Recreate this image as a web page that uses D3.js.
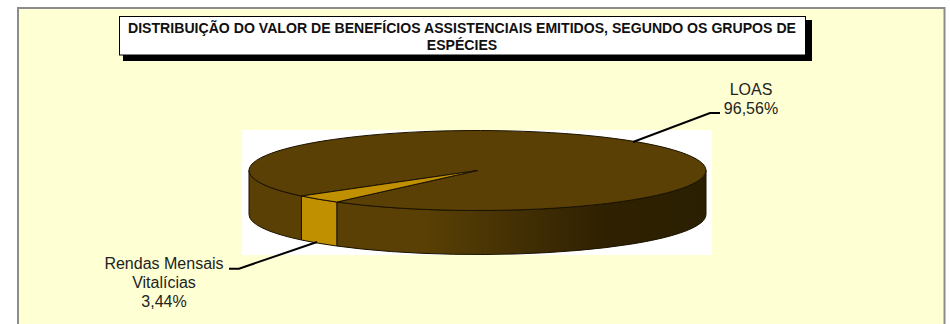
<!DOCTYPE html>
<html><head><meta charset="utf-8">
<script src="https://cdn.jsdelivr.net/npm/d3@7"></script>
<style>html,body{margin:0;padding:0;background:#fff}svg{display:block}text{font-family:"Liberation Sans",Arial,sans-serif}</style>
</head><body><svg id="c" width="950" height="324"></svg>
<script>
const categories = ["LOAS", "Rendas Mensais Vitalícias"];
const values = [96.56, 3.44];
const valueLabels = ["96,56%", "3,44%"];
const colors = ["#5a4004", "#c09000"];
const titleLines = ["DISTRIBUIÇÃO DO VALOR DE BENEFÍCIOS ASSISTENCIAIS EMITIDOS, SEGUNDO OS GRUPOS DE", "ESPÉCIES"];

const svg = d3.select("#c");
const cx = 477.5, cy = 170.5, rx = 228.5, ry = 40, depth = 44;

// frame
svg.append("rect").attr("x",18).attr("y",8).attr("width",926.5).attr("height",330)
  .attr("fill","#ffffd4").attr("stroke","#8c8c8c").attr("stroke-width",2);

// title box
svg.append("rect").attr("x",123).attr("y",20).attr("width",689).attr("height",41).attr("fill","#000");
svg.append("rect").attr("x",119.5).attr("y",16.5).attr("width",686).attr("height",38.5)
  .attr("fill","#fff").attr("stroke","#000").attr("stroke-width",1);
svg.append("g").selectAll("text").data(titleLines).join("text")
  .attr("x",462).attr("y",(d,i)=>33+i*16.5).attr("text-anchor","middle")
  .attr("font-size",14.1).attr("font-weight","bold").attr("fill","#111").text(d=>d);

// plot area
svg.append("rect").attr("x",242).attr("y",130).attr("width",470).attr("height",125).attr("fill","#fff");

// pie: d3 angles measured clockwise from 12 o'clock
const startAngle = (90+128)/180*Math.PI + 2*Math.PI*values[1]/100;
const pie = d3.pie().sort(null).startAngle(startAngle).endAngle(startAngle+2*Math.PI);
const arcs = pie(values);
const px = a => cx + rx*Math.sin(a);
const py = a => cy - ry*Math.cos(a);

const defs = svg.append("defs");
const grad = defs.append("linearGradient").attr("id","side").attr("gradientUnits","userSpaceOnUse")
  .attr("x1",cx-rx).attr("x2",cx+rx).attr("y1",0).attr("y2",0);
[[0,"#5a4004"],[0.38,"#5a4004"],[0.62,"#3f2d03"],[0.78,"#2f2001"],[1,"#2a2001"]]
  .forEach(([o,c])=>grad.append("stop").attr("offset",o).attr("stop-color",c));

function sidePath(a0,a1){
  // visible front part only: angles between PI/2 and 3PI/2 (mod 2PI)
  const lo = Math.PI/2, hi = 3*Math.PI/2;
  const segs=[];
  for (const k of [0,1,2]) {
    const s=Math.max(a0,lo+k*2*Math.PI), e=Math.min(a1,hi+k*2*Math.PI);
    if (e>s) segs.push([s,e]);
  }
  return segs.map(([s,e])=>
    `M${px(s)},${py(s)}A${rx},${ry} 0 0 1 ${px(e)},${py(e)}L${px(e)},${py(e)+depth}`+
    `A${rx},${ry} 0 0 0 ${px(s)},${py(s)+depth}Z`).join("");
}
svg.append("g").selectAll("path").data(arcs).join("path")
  .attr("d",d=>sidePath(d.startAngle,d.endAngle))
  .attr("fill",(d,i)=>i===0?"url(#side)":colors[i])
  .attr("stroke","#1a1200").attr("stroke-width",1);

const arcGen = d3.arc().innerRadius(0).outerRadius(rx);
svg.append("g").attr("transform",`translate(${cx},${cy}) scale(1,${ry/rx})`)
  .selectAll("path").data(arcs).join("path")
  .attr("d",arcGen).attr("fill",(d,i)=>colors[i])
  .attr("stroke","#1a1200").attr("stroke-width",1).attr("vector-effect","non-scaling-stroke");

// leaders and labels
const line = d3.line();
svg.append("path").attr("d",line([[633,142],[710,113],[720,113]])).attr("fill","none").attr("stroke","#000").attr("stroke-width",2);
svg.append("path").attr("d",line([[317,242],[239,268.7],[229,268.7]])).attr("fill","none").attr("stroke","#000").attr("stroke-width",2);

const lab = svg.append("g").attr("font-size",16).attr("fill","#222").attr("text-anchor","middle");
lab.append("text").attr("x",751).attr("y",95).text(categories[0]);
lab.append("text").attr("x",751).attr("y",114).text(valueLabels[0]);
const rendasLines = ["Rendas Mensais","Vitalícias"];
lab.append("text").attr("x",164).attr("y",269).text(rendasLines[0]);
lab.append("text").attr("x",164).attr("y",288).text(rendasLines[1]);
lab.append("text").attr("x",164).attr("y",307).text(valueLabels[1]);
</script></body></html>
